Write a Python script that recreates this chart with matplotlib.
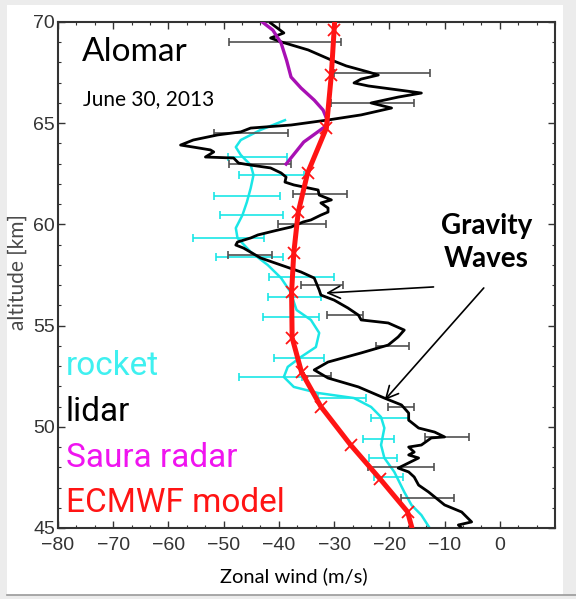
import numpy as np
import matplotlib.pyplot as plt
from matplotlib.ticker import MultipleLocator, AutoMinorLocator
from matplotlib.patches import Rectangle
from matplotlib.lines import Line2D

plt.rcParams['font.family'] = ['Liberation Sans', 'DejaVu Sans']

# lidar profile (altitude km, zonal wind m/s)
lidar_alt = [69.95, 69.46, 69.21, 69.01, 68.62, 68.12, 67.83, 67.53, 67.38, 67.18,
             66.99, 66.84, 66.59, 66.49, 66.29, 66.0, 65.75, 65.41, 65.16, 64.91,
             64.76, 64.57, 64.42, 64.17, 63.92, 63.82, 63.68, 63.58, 63.33, 63.28,
             63.03, 62.93, 62.79, 62.54, 62.34, 62.09, 61.95, 61.70, 61.45, 61.21,
             61.06, 60.81, 60.61, 60.46, 60.22, 60.12, 59.87, 59.72, 59.48, 59.33,
             59.13, 58.98, 58.83, 58.34, 57.99, 57.65, 57.35, 56.76, 56.51, 56.26,
             55.87, 55.52, 55.28, 55.13, 54.78, 54.44, 54.04, 53.65, 53.20, 52.81,
             52.41, 51.97, 51.42, 51.08, 50.68, 50.33, 49.94, 49.74, 49.50, 49.45,
             49.10, 49.0, 48.75, 48.61, 48.46, 47.96, 47.77, 47.52, 47.12, 46.78,
             46.14, 45.79, 45.30, 45.15, 45.0]
lidar_u = [-41.5, -39.1, -41.5, -39.5, -34.7, -30.5, -27.8, -23.8, -22.0, -25.1,
           -26.4, -23.8, -16.9, -14.2, -18.4, -23.3, -19.6, -25.1, -31.1, -37.8,
           -45.1, -46.9, -51.1, -55.5, -57.8, -55.5, -52.4, -51.8, -53.3, -48.2,
           -47.3, -45.1, -41.5, -39.6, -38.7, -38.9, -37.3, -32.9, -32.7, -30.5,
           -32.4, -31.1, -31.1, -32.4, -34.2, -35.6, -37.8, -40.2, -43.8, -45.1,
           -47.5, -47.8, -46.4, -43.3, -39.6, -36.0, -33.6, -32.7, -32.4, -30.0,
           -27.5, -25.6, -25.1, -20.2, -17.3, -18.4, -20.2, -25.1, -31.1, -33.6,
           -31.1, -25.6, -20.9, -17.8, -16.5, -16.5, -14.7, -11.8, -10.0, -12.4,
           -14.2, -16.5, -15.5, -16.5, -14.7, -18.4, -16.5, -15.5, -14.7, -12.9,
           -10.0, -6.9, -5.1, -7.5, -6.9]

lidar_bar_alt = [69.0, 67.5, 66.0, 64.5, 63.0, 61.5, 60.0, 58.5, 57.0, 55.5, 54.0,
                 52.5, 51.0, 49.5, 48.0, 46.5]
lidar_bar_u = [-38.9, -21.35, -23.0, -45.1, -43.45, -32.55, -35.85, -45.3, -32.2,
               -28.0, -19.45, -33.0, -17.85, -9.55, -17.9, -13.0]
lidar_bar_err = [10.2, 8.65, 7.5, 6.7, 5.65, 4.95, 4.35, 4.0, 3.8, 3.3, 2.95, 2.4,
                 2.35, 4.05, 5.9, 4.8]

# rocket profile
rocket_alt = [65.15, 64.67, 64.17, 63.82, 63.43, 62.93, 62.44, 61.8, 61.1, 60.46,
              59.82, 59.33, 58.64, 57.99, 57.35, 56.66, 55.77, 55.28, 54.64, 53.94,
              53.45, 52.96, 52.46, 51.97, 51.67, 51.42, 50.98, 50.48, 49.94, 49.1,
              48.46, 47.77, 46.78, 46.14, 45.64, 45.0]
rocket_u = [-38.9, -43.3, -46.9, -47.8, -46.9, -45.1, -44.6, -45.1, -45.8, -46.6,
            -47.8, -47.5, -45.1, -42.0, -39.6, -37.9, -36.8, -34.2, -32.7, -33.3,
            -36.0, -38.4, -39.1, -37.3, -32.9, -26.4, -23.3, -21.5, -20.9, -21.5,
            -20.9, -19.1, -17.3, -16.0, -14.2, -12.7]

rocket_bar_alt = [63.35, 62.45, 61.4, 60.46, 59.34, 58.4, 57.4, 56.43, 55.44, 53.38,
                  52.45, 51.42, 50.43, 49.4, 48.44, 47.5]
rocket_bar_u = [-43.9, -41.4, -45.8, -45.0, -49.1, -45.3, -35.9, -37.2, -37.8, -36.4,
                -41.6, -28.6, -19.9, -21.9, -21.2, -20.1]
rocket_bar_err = [5.4, 5.9, 6.0, 5.7, 6.4, 6.0, 5.9, 4.8, 5.1, 4.5, 5.7, 4.3, 3.4,
                  2.8, 2.5, 2.6]

# Saura MF radar
saura_alt = [70.0, 69.6, 68.96, 68.1, 67.28, 66.74, 66.14, 65.65, 65.06, 64.8,
             64.07, 62.98]
saura_u = [-43.0, -41.1, -39.6, -38.6, -37.8, -36.0, -33.6, -32.0, -31.1, -31.8,
           -35.5, -38.7]

# ECMWF model levels
ecmwf_alt = [70.0, 69.6, 67.4, 64.76, 62.54, 60.6, 58.6, 56.66, 54.4, 52.7, 51.0,
             49.1, 47.4, 45.8, 45.0]
ecmwf_u = [-29.9, -30.0, -30.5, -31.4, -34.8, -36.5, -37.3, -37.7, -37.6, -35.9,
           -32.4, -27.0, -21.6, -16.7, -15.9]

xticks = [-80, -70, -60, -50, -40, -30, -20, -10, 0]

cyan = '#1ae6e6'
purple = '#a810b4'
red = '#ff1414'

fig = plt.figure(figsize=(5.76, 5.99), dpi=100)
fig.patch.set_facecolor('#ececec')
fig.add_artist(Rectangle((7 / 576, 1 - 595 / 599), 556 / 576, 590 / 599,
                         transform=fig.transFigure, facecolor='white',
                         edgecolor='none', zorder=-5))
fig.add_artist(Line2D([7 / 576, 1], [1 - 595 / 599] * 2, transform=fig.transFigure,
                      color='#9a9a9a', lw=1.2, zorder=-4))

ax = fig.add_axes([58 / 576, 1 - 528 / 599, 497 / 576, 506 / 599])

ax.errorbar(rocket_bar_u, rocket_bar_alt, xerr=rocket_bar_err, fmt='none',
            ecolor=cyan, elinewidth=1.2, capsize=3, capthick=1.2, zorder=1)
ax.plot(rocket_u, rocket_alt, color=cyan, lw=1.8, zorder=2)

ax.errorbar(lidar_bar_u, lidar_bar_alt, xerr=lidar_bar_err, fmt='none',
            ecolor='#505050', elinewidth=1.2, capsize=3, capthick=1.2, zorder=3)
ax.plot(lidar_u, lidar_alt, color='black', lw=2.0, zorder=4)

ax.plot(saura_u, saura_alt, color=purple, lw=2.4, zorder=5)

ax.plot(ecmwf_u, ecmwf_alt, color=red, lw=3.6, zorder=6,
        marker='x', markersize=9, markeredgewidth=1.3,
        markevery=list(range(1, len(ecmwf_alt) - 1)))

ax.set_xlim(-80, 10)
ax.set_ylim(45, 70)
ax.set_xticks(xticks)
ax.xaxis.set_minor_locator(AutoMinorLocator(3))
ax.yaxis.set_major_locator(MultipleLocator(5))
ax.yaxis.set_minor_locator(AutoMinorLocator(5))
ax.tick_params(which='both', direction='in', top=True, right=True,
               colors='#333333', labelsize=14)
ax.tick_params(which='major', length=5, width=1)
ax.tick_params(which='minor', length=2.5, width=0.8)
ax.tick_params(axis='x', pad=6.5)
ax.tick_params(axis='y', pad=2)
for s in ax.spines.values():
    s.set_color('#333333')
    s.set_linewidth(1.5)

ax.text(0.048, 0.923, 'Alomar', transform=ax.transAxes, fontsize=24,
        family='Lato', va='baseline')
ax.text(0.050, 0.836, 'June 30, 2013', transform=ax.transAxes, fontsize=15,
        family='Lato', va='baseline')

leg_font = ['Roboto', 'Liberation Sans']
ax.text(0.016, 0.302, 'rocket', transform=ax.transAxes, fontsize=24,
        color='#3ff0f0', family=leg_font, va='baseline')
ax.text(0.016, 0.211, 'lidar', transform=ax.transAxes, fontsize=24,
        color='black', family=leg_font, va='baseline')
ax.text(0.016, 0.1206, 'Saura radar', transform=ax.transAxes, fontsize=24,
        color='#f014f0', family=leg_font, va='baseline')
ax.text(0.016, 0.0316, 'ECMWF model', transform=ax.transAxes, fontsize=24,
        color=red, family=leg_font, va='baseline')

fig.text(487 / 576, 1 - 226 / 599, 'Gravity', fontsize=20, fontweight='bold',
         family='Lato', ha='center', va='center')
fig.text(486 / 576, 1 - 259 / 599, 'Waves', fontsize=20, fontweight='bold',
         family='Lato', ha='center', va='center')

ax.annotate('', xy=(-31.45, 56.61), xytext=(-12.0, 56.91),
            arrowprops=dict(arrowstyle='->', lw=1.2, color='black',
                            mutation_scale=22, shrinkA=0, shrinkB=0))
ax.annotate('', xy=(-20.85, 51.32), xytext=(-2.9, 56.86),
            arrowprops=dict(arrowstyle='->', lw=1.2, color='black',
                            mutation_scale=22, shrinkA=0, shrinkB=0))

fig.text(18 / 576, 1 - 272 / 599, 'altitude [km]', rotation=90, fontsize=15,
         family='Lato', color='#4a4a4a', ha='center', va='center')
fig.text(294 / 576, 1 - 576 / 599, 'Zonal wind (m/s)', fontsize=14.5,
         family='Lato', ha='center', va='center')

fig.savefig('out.png', dpi=100)
